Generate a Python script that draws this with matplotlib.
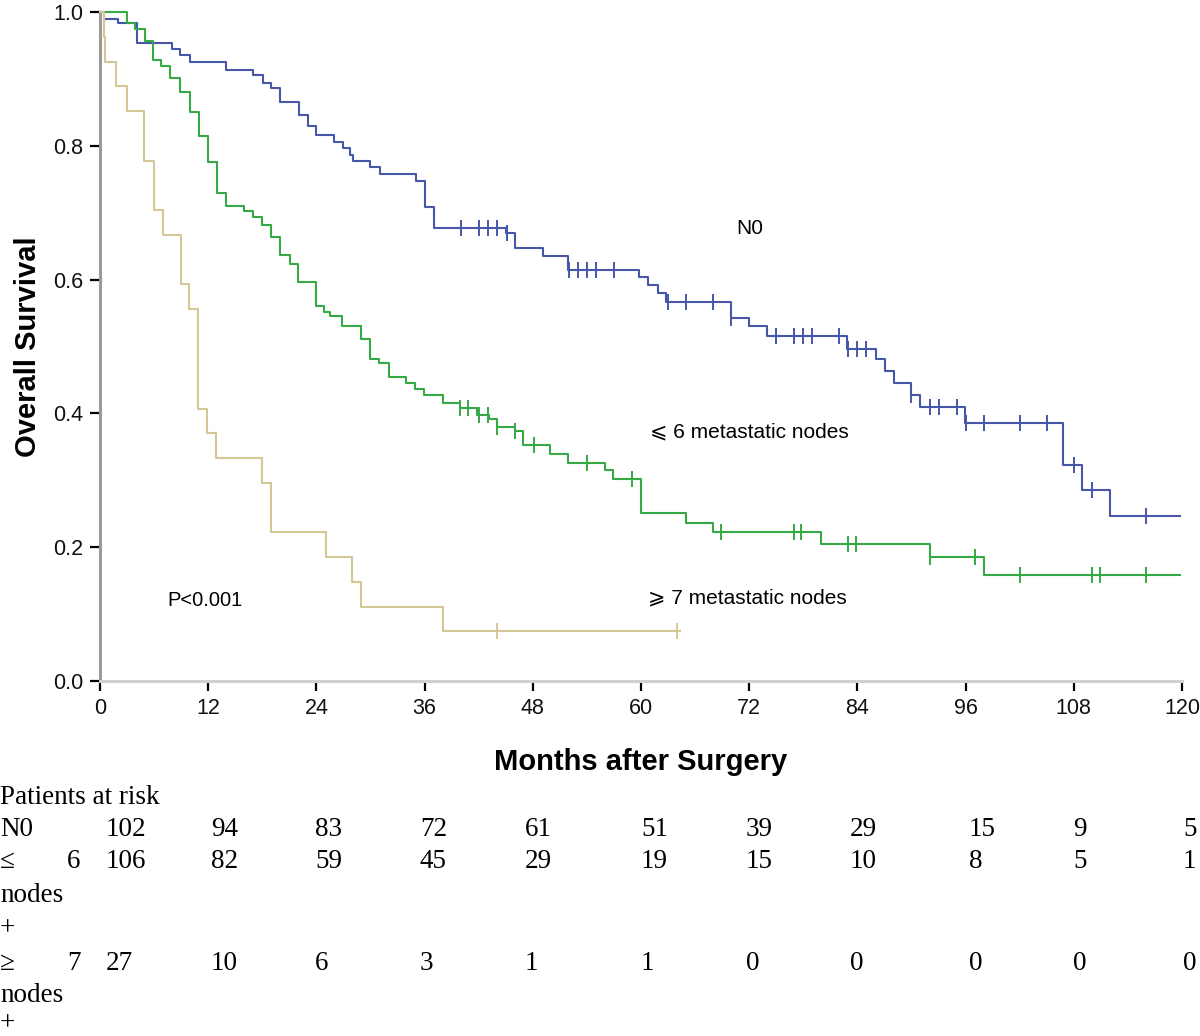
import numpy as np
import matplotlib
matplotlib.use("Agg")
import matplotlib.pyplot as plt

plt.rcParams['font.family'] = ['Liberation Sans', 'DejaVu Sans']

# Kaplan-Meier steps: (month of drop, survival after drop)
n0_times = [0, 0.4, 2.0, 4.1, 8.0, 8.9, 10.0, 14.0, 17.0, 18.1, 19.0, 20.0, 22.1, 23.1,
            24.0, 26.0, 26.9, 27.7, 28.1, 29.9, 31.0, 35.0, 36.0, 37.0, 45.0, 46.0,
            49.1, 51.9, 59.8, 60.8, 61.9, 62.8, 70.0, 72.0, 74.0, 82.8, 86.1, 87.1,
            88.1, 90.0, 90.9, 95.9, 106.8, 108.9, 112.0]
n0_surv = [1.0, 0.990, 0.983, 0.953, 0.944, 0.936, 0.926, 0.914, 0.906, 0.894, 0.886,
           0.866, 0.846, 0.829, 0.816, 0.806, 0.796, 0.786, 0.777, 0.768, 0.758, 0.748,
           0.709, 0.677, 0.669, 0.647, 0.635, 0.614, 0.604, 0.592, 0.580, 0.567, 0.542,
           0.530, 0.516, 0.497, 0.481, 0.464, 0.446, 0.428, 0.409, 0.386, 0.323, 0.286,
           0.246]
n0_end = 119.8
n0_censor = [40.0, 42.0, 43.0, 44.0, 45.1, 52.0, 53.0, 54.0, 55.0, 57.0, 63.0, 65.0, 68.0,
             70.0, 75.0, 77.0, 78.0, 79.0, 82.0, 83.0, 84.0, 85.0, 90.0, 92.0, 93.0, 95.0,
             96.0, 98.0, 102.0, 105.0, 108.0, 110.0, 116.0]

le6_times = [0, 3.0, 3.9, 5.0, 5.9, 6.8, 7.8, 8.9, 10.0, 11.0, 12.0, 13.0, 14.0, 16.0,
             17.0, 18.0, 19.0, 20.0, 21.1, 22.0, 24.0, 24.8, 25.5, 26.8, 28.9, 29.9,
             30.9, 32.0, 33.9, 34.9, 35.9, 38.0, 39.9, 41.8, 43.1, 44.0, 46.0, 46.9,
             49.9, 51.9, 56.0, 56.9, 60.0, 65.0, 68.0, 80.0, 92.0, 98.0]
le6_surv = [1.0, 0.984, 0.974, 0.956, 0.928, 0.919, 0.901, 0.881, 0.851, 0.815, 0.776,
            0.730, 0.710, 0.702, 0.694, 0.682, 0.664, 0.637, 0.624, 0.597, 0.560, 0.552,
            0.546, 0.531, 0.511, 0.482, 0.475, 0.455, 0.446, 0.437, 0.427, 0.416, 0.408,
            0.398, 0.391, 0.380, 0.373, 0.353, 0.340, 0.326, 0.315, 0.302, 0.251, 0.236,
            0.223, 0.205, 0.185, 0.158]
le6_end = 119.8
le6_censor = [39.9, 40.8, 42.0, 43.0, 44.0, 46.0, 48.1, 54.0, 59.0, 68.9, 77.0, 77.8,
              83.0, 83.9, 92.0, 97.0, 102.0, 110.0, 110.9, 116.0]

ge7_times = [0, 0.4, 0.6, 1.8, 3.0, 4.9, 6.0, 7.0, 9.0, 9.9, 10.9, 11.9, 12.9, 18.0,
             19.0, 25.1, 28.0, 29.0, 38.0]
ge7_surv = [1.0, 0.963, 0.926, 0.889, 0.852, 0.778, 0.704, 0.667, 0.593, 0.556, 0.407,
            0.370, 0.333, 0.296, 0.222, 0.185, 0.148, 0.111, 0.074]
ge7_end = 64.3
ge7_censor = [44.0, 64.0]

risk_groups = ['N0', '≤6', '≥7']
risk_n0 = [102, 94, 83, 72, 61, 51, 39, 29, 15, 9, 5]
risk_le6 = [106, 82, 59, 45, 29, 19, 15, 10, 8, 5, 1]
risk_ge7 = [27, 10, 6, 3, 1, 1, 0, 0, 0, 0, 0]

fig = plt.figure(figsize=(12, 10.36), dpi=100, facecolor='white')
ax = fig.add_axes([100 / 1200, 1 - 681 / 1036, 1082 / 1200, 669 / 1036])

curves = [
    (n0_times, n0_surv, n0_end, n0_censor, '#4656a8'),
    (le6_times, le6_surv, le6_end, le6_censor, '#34a945'),
    (ge7_times, ge7_surv, ge7_end, ge7_censor, '#d3c895'),
]
for t, s, end, cens, col in curves:
    tt = list(t) + [end]
    ss = list(s) + [s[-1]]
    ax.step(tt, ss, where='post', color=col, lw=1.5, clip_on=False, zorder=3)
    idx = np.searchsorted(t, cens, side='right') - 1
    ax.plot(cens, np.array(s)[idx], ls='none', marker='|', ms=11, mew=1.4,
            color=col, clip_on=False, zorder=4)

ax.set_xlim(0, 120)
ax.set_ylim(0, 1.0)
ax.set_xticks(np.arange(0, 121, 12))
ax.set_yticks(np.arange(0, 1.01, 0.2))
ax.set_yticklabels([f'{v:.1f}' for v in np.arange(0, 1.01, 0.2)])
ax.tick_params(direction='out', length=7, width=1.6, labelsize=15.5, color='black',
               labelcolor='#111111', pad=5)
for side in ['top', 'right']:
    ax.spines[side].set_visible(False)
ax.spines['left'].set_color('#9a9a9a')
ax.spines['left'].set_linewidth(2.2)
ax.spines['bottom'].set_color('#d0d0d0')
ax.spines['bottom'].set_linewidth(2.2)

ax.set_ylabel('Overall Survival', fontsize=21, fontweight='bold', labelpad=8)
ax.set_xlabel('Months after Surgery', fontsize=21, fontweight='bold', labelpad=21)

ax.text(72.1, 0.677, 'N0', fontsize=15, ha='center', va='center')
ax.text(61.0, 0.372, '⩽ 6 metastatic nodes', fontsize=15, ha='left', va='center')
ax.text(60.8, 0.124, '⩾ 7 metastatic nodes', fontsize=15, ha='left', va='center')
ax.text(7.5, 0.121, 'P<0.001', fontsize=14.5, ha='left', va='center')

# at-risk table below the axes
serif = ['Liberation Serif', 'DejaVu Serif']
fs = 19.5
col_x = [106, 211, 315, 420, 525, 641, 746, 850, 969, 1073, 1183]

def fy(py):
    return 1 - py / 1036

fig.text(0, fy(797), 'Patients at risk', family=serif, fontsize=fs, va='center')
fig.text(0, fy(830), 'N0', family=serif, fontsize=fs, va='center')
fig.text(0, fy(862), risk_groups[1][0], family=serif, fontsize=fs, va='center')
fig.text(67 / 1200, fy(862), risk_groups[1][1:], family=serif, fontsize=fs, va='center')
fig.text(0, fy(896), 'nodes', family=serif, fontsize=fs, va='center')
fig.text(0, fy(929), '+', family=serif, fontsize=fs, va='center')
fig.text(0, fy(963), risk_groups[2][0], family=serif, fontsize=fs, va='center')
fig.text(67 / 1200, fy(963), risk_groups[2][1:], family=serif, fontsize=fs, va='center')
fig.text(0, fy(996), 'nodes', family=serif, fontsize=fs, va='center')
fig.text(0, fy(1024), '+', family=serif, fontsize=fs, va='center')

for row_y, vals in [(830, risk_n0), (862, risk_le6), (963, risk_ge7)]:
    for x, v in zip(col_x, vals):
        fig.text(x / 1200, fy(row_y), str(v), family=serif, fontsize=fs, va='center')

fig.savefig('out.png', dpi=100, facecolor='white')
